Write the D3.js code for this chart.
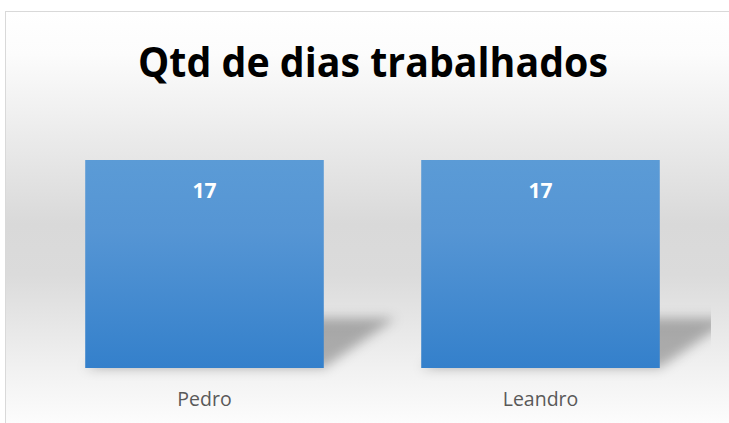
<!DOCTYPE html>
<html>
<head>
<meta charset="utf-8">
<script src="https://cdn.jsdelivr.net/npm/d3@7"></script>
<style>
html,body{margin:0;padding:0;background:#ffffff;overflow:hidden;}
svg{display:block;}
</style>
</head>
<body>
<script>
const title = "Qtd de dias trabalhados";
const categories = ["Pedro", "Leandro"];
const values = [17, 17];
const yMax = 18;

const W = 729, H = 423;
const svg = d3.select("body").append("svg").attr("width", W).attr("height", H);
const defs = svg.append("defs");

const bg = defs.append("linearGradient").attr("id","bg").attr("x1",0).attr("y1",0).attr("x2",0).attr("y2",1);
[[0,"#ffffff"],[0.1,"#fcfcfc"],[0.5,"#d9d9d9"],[0.62,"#dbdbdb"],[0.85,"#f2f2f2"],[1,"#ffffff"]]
  .forEach(([o,c]) => bg.append("stop").attr("offset",o).attr("stop-color",c));

const barG = defs.append("linearGradient").attr("id","barG").attr("x1",0).attr("y1",0).attr("x2",0).attr("y2",1);
barG.append("stop").attr("offset",0).attr("stop-color","#5b9bd6");
barG.append("stop").attr("offset",0.35).attr("stop-color","#5595d4");
barG.append("stop").attr("offset",1).attr("stop-color","#3480cb");

const blur = defs.append("filter").attr("id","blur").attr("x","-50%").attr("y","-50%").attr("width","200%").attr("height","200%");
blur.append("feGaussianBlur").attr("stdDeviation",6);

defs.append("clipPath").attr("id","plotClip").append("rect")
  .attr("x",30).attr("y",100).attr("width",681).attr("height",300);

// chart area
svg.append("rect").attr("x",5.5).attr("y",11.5).attr("width",736).attr("height",425)
  .attr("fill","url(#bg)").attr("stroke","#d9d9d9").attr("stroke-width",1);

svg.append("text").attr("x",373).attr("y",77).attr("text-anchor","middle")
  .attr("font-family","'Open Sans', 'Noto Sans', sans-serif").attr("font-weight","bold")
  .attr("font-size",41).attr("fill","#000000")
  .attr("textLength",470).attr("lengthAdjust","spacingAndGlyphs")
  .text(title);

const x = d3.scaleBand().domain(categories).range([36.5, 708.5]).paddingInner(0.29).paddingOuter(0.145);
const y = d3.scaleLinear().domain([0, yMax]).range([368, 368 - 208/17*18]);

const plot = svg.append("g").attr("clip-path","url(#plotClip)");
const data = categories.map((c,i)=>({c, v: values[i]}));

// perspective shadows
plot.selectAll("path.shadow").data(data).enter().append("path")
  .attr("class","shadow")
  .attr("d", d => {
    const x0 = x(d.c), x1 = x(d.c) + x.bandwidth();
    const yb = y(0);
    const h = (y(0) - y(d.v)) * 0.24;
    const dx = 72;
    return `M${x0},${yb} L${x1},${yb} L${x1+dx},${yb-h} L${x0+dx},${yb-h} Z`;
  })
  .attr("fill","rgba(0,0,0,0.28)").attr("filter","url(#blur)");

plot.selectAll("rect.bar").data(data).enter().append("rect")
  .attr("class","bar")
  .attr("x", d => x(d.c)).attr("width", x.bandwidth())
  .attr("y", d => y(d.v)).attr("height", d => y(0) - y(d.v))
  .attr("fill","url(#barG)");

svg.selectAll("text.val").data(data).enter().append("text")
  .attr("class","val")
  .attr("x", d => x(d.c) + x.bandwidth()/2).attr("y", d => y(d.v) + 38)
  .attr("text-anchor","middle")
  .attr("font-family","'Open Sans', 'Noto Sans', sans-serif").attr("font-weight","bold")
  .attr("font-size",21).attr("fill","#ffffff")
  .text(d => d.v);

const xAxis = d3.axisBottom(x).tickSize(0).tickPadding(0);
const ax = svg.append("g").attr("transform","translate(0,406)").call(xAxis);
ax.select(".domain").remove();
ax.selectAll("text").attr("dy",0).attr("y",0)
  .attr("font-family","'Open Sans', 'Noto Sans', sans-serif").attr("font-size",19.5)
  .attr("fill","#595959");
</script>
</body>
</html>
